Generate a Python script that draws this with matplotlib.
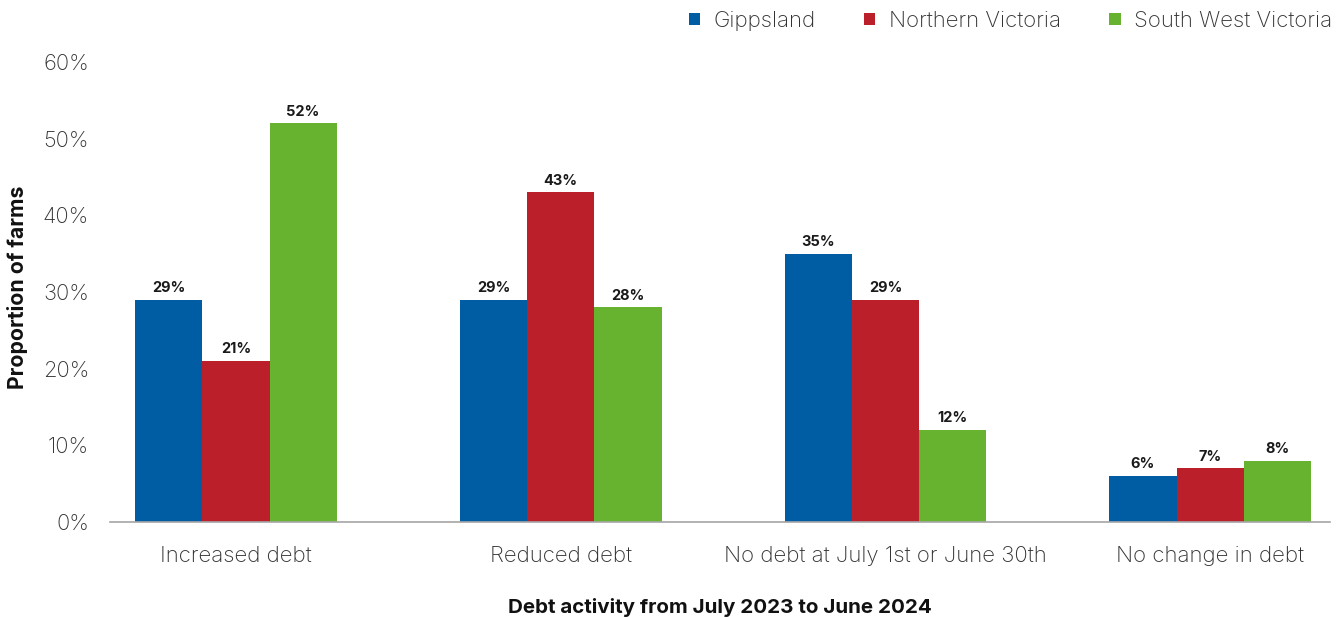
import matplotlib
matplotlib.use("Agg")
import matplotlib.pyplot as plt
import numpy as np

categories = ["Increased debt", "Reduced debt", "No debt at July 1st or June 30th", "No change in debt"]
series_names = ["Gippsland", "Northern Victoria", "South West Victoria"]
gippsland = [29, 29, 35, 6]
northern_victoria = [21, 43, 29, 7]
south_west_victoria = [52, 28, 12, 8]
colors = ["#005DA3", "#BA1F2A", "#67B22F"]

plt.rcParams["font.family"] = ["Inter", "DejaVu Sans"]

fig = plt.figure(figsize=(13.44, 6.17), dpi=100)
ax = fig.add_axes([0.0818, 0.154, 0.9078, 0.7455])

x = np.arange(len(categories))
width = 0.207
values = [gippsland, northern_victoria, south_west_victoria]
handles = []
for i, (name, vals, col) in enumerate(zip(series_names, values, colors)):
    pos = x + (i - 1) * width
    b = ax.bar(pos, vals, width=width, color=col, label=name, zorder=2)
    handles.append(b)
    for p, v in zip(pos, vals):
        ax.text(p, v + 0.6, f"{v}%", ha="center", va="bottom",
                fontsize=10.5, fontweight="bold", color="#1a1a1a")

ax.set_xlim(-0.388, 3.369)
ax.set_ylim(0, 60)
ax.set_yticks(np.arange(0, 61, 10))
ax.set_yticklabels([f"{v}%" for v in range(0, 61, 10)], fontsize=15.8, color="#333333",
                   fontweight="light")
ax.set_xticks(x)
ax.set_xticklabels(categories, fontsize=16, color="#333333", fontweight="light")
ax.tick_params(axis="both", length=0)
ax.tick_params(axis="x", pad=17)
ax.tick_params(axis="y", pad=15)
for s in ["top", "right", "left"]:
    ax.spines[s].set_visible(False)
ax.spines["bottom"].set_color("#a6a6a6")
ax.spines["bottom"].set_linewidth(1.2)

ax.set_ylabel("Proportion of farms", fontsize=15.3, fontweight="bold", color="#111111")
ax.yaxis.set_label_coords(-0.067, 0.51)
ax.set_xlabel("Debt activity from July 2023 to June 2024", fontsize=14.8, fontweight="bold",
              color="#111111", labelpad=23)

fig.legend(handles=handles, labels=series_names, loc="upper right",
           bbox_to_anchor=(1.006, 1.015), ncol=3, frameon=False,
           prop={"size": 16, "weight": "light"},
           handlelength=0.5, handleheight=0.5, handletextpad=0.6, columnspacing=2.2,
           labelcolor="#333333")

fig.savefig("out.png", dpi=100)
